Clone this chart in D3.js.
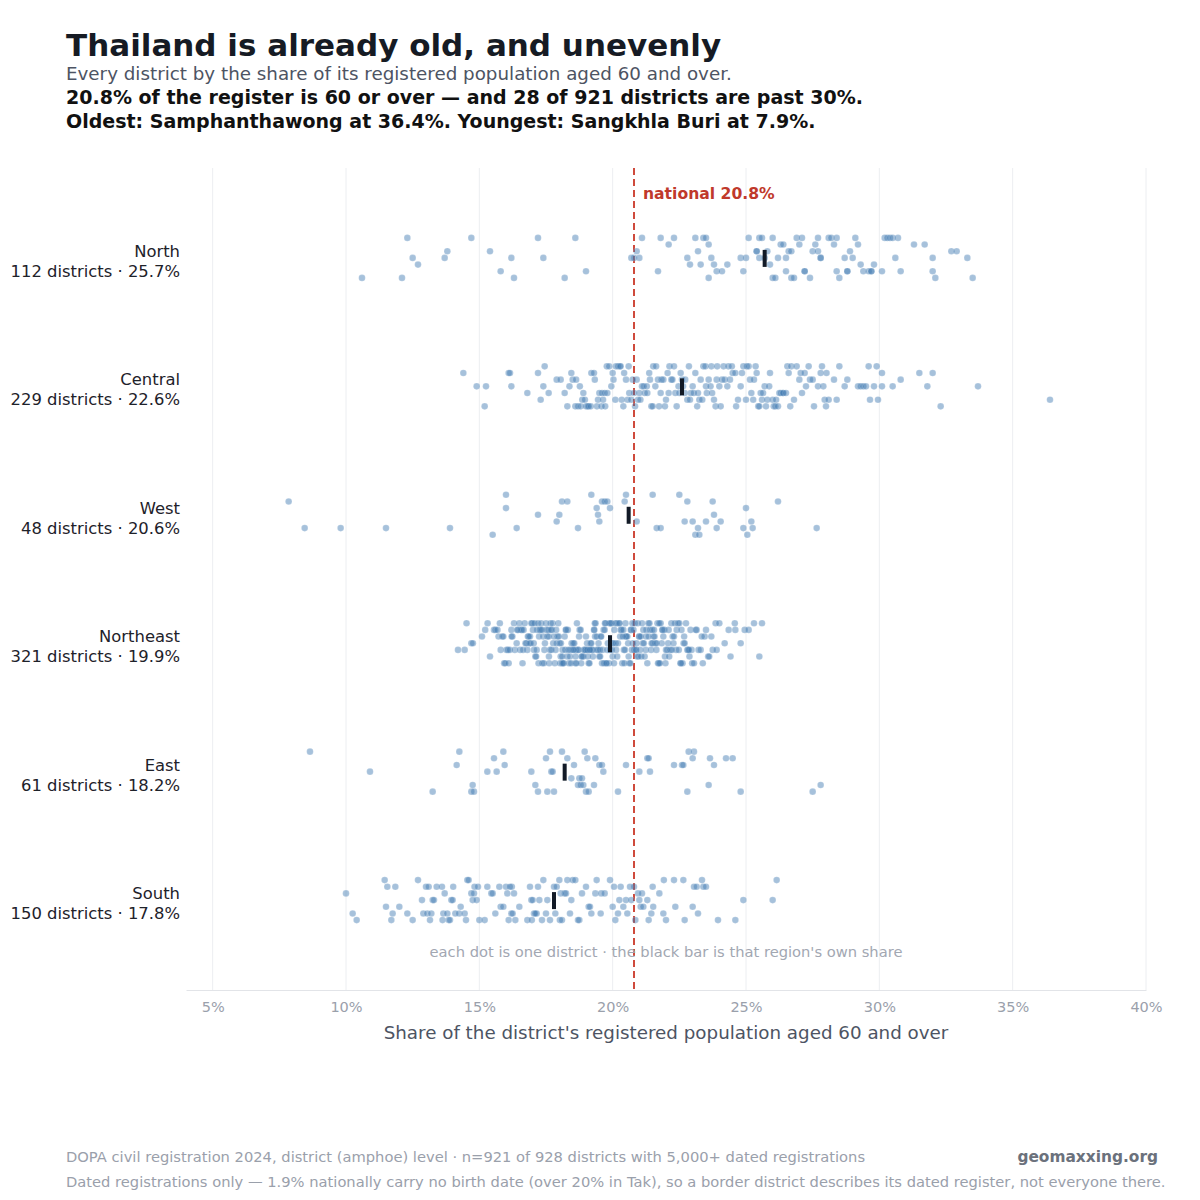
<!DOCTYPE html>
<html>
<head>
<meta charset="utf-8">
<script src="https://cdn.jsdelivr.net/npm/d3@7"></script>
<style>
  body { margin: 0; background: #fff; }
  svg { font-family: "DejaVu Sans", sans-serif; }
</style>
</head>
<body>
<svg id="chart" width="1200" height="1200"></svg>
<script>
// regions, top to bottom
var regions = ["North", "Central", "West", "Northeast", "East", "South"];
var regionCounts = [112, 229, 48, 321, 61, 150];
var regionShares = [25.7, 22.6, 20.6, 19.9, 18.2, 17.8];
var nationalShare = 20.8;
var xTicks = [5, 10, 15, 20, 25, 30, 35, 40];

// district shares aged 60+ (%)
var north = [
  10.6, 12.1, 12.3, 12.5, 12.7, 13.7, 13.8, 14.7, 15.4, 15.8,
  16.2, 16.3, 17.2, 17.4, 18.2, 18.6, 19.0, 20.7, 20.8, 20.9,
  21.0, 21.1, 21.7, 21.8, 22.1, 22.3, 22.8, 22.9, 23.1, 23.2,
  23.3, 23.4, 23.5, 23.6, 23.6, 23.7, 23.8, 23.9, 24.1, 24.3,
  24.8, 24.9, 25.0, 25.1, 25.4, 25.4, 25.5, 25.5, 25.6, 25.7,
  25.8, 25.9, 26.0, 26.0, 26.1, 26.2, 26.3, 26.4, 26.5, 26.5,
  26.6, 26.7, 26.7, 26.8, 26.9, 27.0, 27.1, 27.2, 27.2, 27.4,
  27.5, 27.6, 27.7, 27.7, 27.8, 27.8, 28.1, 28.2, 28.3, 28.4,
  28.4, 28.5, 28.7, 28.8, 28.8, 28.9, 29.0, 29.1, 29.2, 29.3,
  29.4, 29.6, 29.7, 29.7, 29.8, 30.1, 30.2, 30.3, 30.4, 30.5,
  30.6, 30.7, 30.8, 31.3, 31.7, 32.0, 32.0, 32.1, 32.7, 32.9,
  33.3, 33.5
];
var central = [
  14.4, 14.9, 15.2, 15.25, 16.1, 16.15, 16.2, 16.8, 17.2, 17.3,
  17.4, 17.45, 17.6, 17.9, 18.05, 18.2, 18.3, 18.38, 18.45, 18.5,
  18.6, 18.63, 18.7, 18.77, 18.8, 18.86, 18.9, 18.96, 19.0, 19.06,
  19.1, 19.18, 19.2, 19.3, 19.33, 19.41, 19.45, 19.5, 19.58, 19.6,
  19.64, 19.7, 19.72, 19.78, 19.8, 19.87, 19.95, 20.0, 20.03, 20.1,
  20.12, 20.2, 20.27, 20.3, 20.34, 20.4, 20.43, 20.5, 20.56, 20.6,
  20.62, 20.7, 20.75, 20.8, 20.84, 20.9, 20.95, 21.0, 21.04, 21.1,
  21.16, 21.2, 21.28, 21.3, 21.37, 21.4, 21.45, 21.5, 21.52, 21.6,
  21.63, 21.7, 21.74, 21.8, 21.83, 21.9, 21.96, 22.0, 22.06, 22.1,
  22.13, 22.2, 22.24, 22.3, 22.35, 22.4, 22.47, 22.5, 22.55, 22.6,
  22.64, 22.7, 22.72, 22.8, 22.86, 22.9, 22.93, 23.0, 23.04, 23.1,
  23.17, 23.2, 23.25, 23.3, 23.36, 23.4, 23.48, 23.5, 23.53, 23.6,
  23.67, 23.7, 23.73, 23.8, 23.86, 23.9, 23.92, 24.0, 24.05, 24.1,
  24.16, 24.2, 24.3, 24.34, 24.4, 24.47, 24.5, 24.6, 24.63, 24.7,
  24.8, 24.85, 24.9, 25.0, 25.03, 25.1, 25.15, 25.2, 25.27, 25.3,
  25.36, 25.4, 25.46, 25.5, 25.55, 25.6, 25.64, 25.7, 25.75, 25.8,
  25.87, 25.9, 26.0, 26.04, 26.1, 26.13, 26.2, 26.25, 26.3, 26.38,
  26.4, 26.5, 26.55, 26.6, 26.66, 26.7, 26.8, 26.9, 27.0, 27.05,
  27.1, 27.2, 27.25, 27.35, 27.4, 27.5, 27.55, 27.7, 27.8, 27.85,
  27.9, 27.95, 28.0, 28.02, 28.1, 28.3, 28.4, 28.5, 28.7, 28.8,
  29.2, 29.3, 29.4, 29.5, 29.6, 29.65, 29.8, 29.9, 29.95, 30.1,
  30.1, 30.5, 30.8, 31.5, 31.8, 32.0, 32.3, 33.7, 36.4
];
var west = [
  7.85, 8.45, 9.8, 11.5, 13.9, 15.5, 16.0, 16.0, 16.4, 17.2,
  17.9, 18.0, 18.1, 18.3, 18.7, 19.2, 19.4, 19.45, 19.5, 19.6,
  19.7, 19.8, 19.9, 20.45, 20.5, 20.9, 21.5, 21.65, 21.8, 22.5,
  22.7, 22.8, 23.0, 23.1, 23.2, 23.25, 23.5, 23.75, 23.8, 23.9,
  24.05, 24.9, 25.0, 25.05, 25.2, 25.25, 26.2, 27.65
];
var northeast = [
  14.2, 14.45, 14.52, 14.7, 14.76, 15.1, 15.22, 15.31, 15.4, 15.55,
  15.6, 15.68, 15.72, 15.77, 15.8, 15.86, 15.9, 15.93, 15.97,
  16.02, 16.07, 16.1, 16.14, 16.2, 16.24, 16.3, 16.33, 16.4, 16.46,
  16.5, 16.53, 16.56, 16.6, 16.62, 16.66, 16.7, 16.73, 16.76, 16.8,
  16.82, 16.85, 16.88, 16.9, 16.92, 16.95, 16.98, 16.42, 16.21, 16.64,
  17.01, 17.04, 17.07, 17.1, 17.13, 17.16, 17.2, 17.22, 17.26, 17.3,
  17.32, 17.36, 17.4, 17.42, 17.46, 17.5, 17.52, 17.55, 17.58, 17.6,
  17.62, 17.65, 17.67, 17.7, 17.72, 17.75, 17.77, 17.8, 17.83, 17.86,
  17.88, 17.9, 17.93, 17.96, 17.98, 17.05, 17.24, 17.44, 17.61, 17.69,
  17.15, 17.35,
  18.01, 18.03, 18.06, 18.1, 18.12, 18.16, 18.2, 18.22, 18.26, 18.3,
  18.32, 18.36, 18.4, 18.42, 18.46, 18.5, 18.52, 18.56, 18.6, 18.62,
  18.66, 18.7, 18.72, 18.76, 18.8, 18.82, 18.86, 18.9, 18.92, 18.96,
  18.98, 18.05, 18.14, 18.24, 18.34, 18.44, 18.54, 18.64, 18.74, 18.84,
  18.11, 18.61,
  19.0, 19.04, 19.07, 19.1, 19.12, 19.17, 19.2, 19.22, 19.25, 19.3,
  19.31, 19.34, 19.4, 19.41, 19.45, 19.5, 19.52, 19.55, 19.6, 19.62,
  19.66, 19.7, 19.71, 19.75, 19.8, 19.82, 19.86, 19.9, 19.93, 19.97,
  19.99, 19.05, 19.15, 19.26, 19.36, 19.47, 19.57, 19.67, 19.77, 19.88,
  19.13, 19.33, 19.53, 19.73, 19.94,
  20.0, 20.02, 20.06, 20.1, 20.11, 20.15, 20.2, 20.23, 20.26, 20.3,
  20.33, 20.36, 20.4, 20.42, 20.46, 20.5, 20.51, 20.55, 20.6, 20.63,
  20.66, 20.7, 20.72, 20.76, 20.8, 20.83, 20.86, 20.9, 20.92, 20.96,
  20.99, 20.05, 20.17, 20.28, 20.38, 20.48, 20.58, 20.68, 20.78, 20.88,
  20.13, 20.44, 20.74, 20.94,
  21.0, 21.03, 21.07, 21.1, 21.13, 21.17, 21.2, 21.24, 21.27, 21.3,
  21.34, 21.38, 21.4, 21.44, 21.48, 21.5, 21.53, 21.57, 21.6, 21.64,
  21.68, 21.7, 21.73, 21.77, 21.8, 21.84, 21.88, 21.9, 21.94, 21.98,
  21.05, 21.15, 21.25, 21.35, 21.46, 21.55, 21.65, 21.75, 21.86, 21.96,
  22.0, 22.04, 22.08, 22.12, 22.16, 22.2, 22.25, 22.3, 22.33, 22.38,
  22.4, 22.45, 22.5, 22.54, 22.58, 22.62, 22.66, 22.7, 22.75, 22.8,
  22.83, 22.88, 22.92, 22.96, 22.1, 22.28, 22.48, 22.68, 22.86, 22.98,
  22.22, 22.56,
  23.05, 23.15, 23.22, 23.3, 23.38, 23.45, 23.5, 23.58, 23.62, 23.7,
  23.75, 23.86, 23.9, 23.12, 23.34,
  24.0, 24.2, 24.35, 24.42, 24.58, 24.6, 24.8, 24.95,
  25.1, 25.3, 25.5, 25.6
];
var east = [
  8.65, 10.9, 13.25, 14.15, 14.25, 14.7, 14.75, 14.8, 15.3, 15.55,
  15.65, 15.9, 15.95, 16.95, 17.1, 17.2, 17.5, 17.55, 17.65, 17.7,
  17.75, 17.8, 18.1, 18.3, 18.45, 18.55, 18.7, 18.75, 18.8, 18.85,
  18.9, 18.95, 19.0, 19.05, 19.1, 19.3, 19.35, 19.5, 19.6, 19.65,
  20.2, 20.5, 21.0, 21.3, 21.35, 21.4, 22.3, 22.6, 22.65, 22.8,
  22.85, 23.0, 23.05, 23.6, 23.65, 23.8, 24.25, 24.5, 24.8, 27.5,
  27.8
];
var south = [
  10.0, 10.25, 10.4, 11.45, 11.5, 11.55, 11.7, 11.75, 11.85, 12.0,
  12.3, 12.5, 12.7, 12.85, 12.9, 13.0, 13.05, 13.15, 13.2, 13.25,
  13.3, 13.6, 13.62, 13.65, 13.7, 13.8, 13.85, 13.9, 13.95, 14.0,
  14.02, 14.25, 14.3, 14.45, 14.5, 14.55, 14.6, 14.7, 14.75, 14.8,
  14.82, 14.95, 15.0, 15.2, 15.45, 15.6, 15.75, 15.8, 15.9, 16.0,
  16.05, 16.1, 16.2, 16.22, 16.25, 16.3, 16.35, 16.8, 16.9, 16.95,
  16.97, 17.0, 17.05, 17.15, 17.2, 17.25, 17.35, 17.4, 17.55, 17.65,
  17.8, 17.85, 18.0, 18.02, 18.05, 18.2, 18.25, 18.3, 18.4, 18.45,
  18.5, 18.6, 18.75, 18.85, 19.0, 19.1, 19.15, 19.35, 19.4, 19.55,
  19.57, 19.9, 20.05, 20.1, 20.2, 20.25, 20.3, 20.4, 20.5, 20.55,
  20.65, 20.7, 20.85, 20.95, 21.0, 21.05, 21.1, 21.15, 21.3, 21.35,
  21.45, 21.5, 21.52, 21.75, 21.9, 21.92, 22.0, 22.3, 22.35, 22.65,
  22.7, 23.0, 23.05, 23.15, 23.2, 23.35, 23.4, 23.5, 23.95, 24.6,
  24.9, 26.0, 26.15, 13.1, 13.4, 14.1, 14.9, 15.3, 15.5, 16.15,
  16.5, 17.1, 17.5, 17.9, 18.1, 18.7, 19.2, 19.7, 20.0, 20.8
];
var districtValues = [north, central, west, northeast, east, south];

var svg = d3.select("#chart");
var plotLeft = 186, plotRight = 1146, plotTop = 168, plotBottom = 990;

var x = d3.scaleLinear().domain([4, 40]).range([plotLeft, plotRight]);
var y = d3.scalePoint().domain(regions).range([plotTop, plotBottom]).padding(0.7);
var laneGap = 6.67;

// titles
svg.append("text").attr("x", 66).attr("y", 56)
    .style("font-size", "31px").style("font-weight", "bold").style("fill", "#161b24")
    .text("Thailand is already old, and unevenly");
svg.append("text").attr("x", 66).attr("y", 80)
    .style("font-size", "18.3px").style("fill", "#4d5463")
    .text("Every district by the share of its registered population aged 60 and over.");
svg.append("text").attr("x", 66).attr("y", 104)
    .style("font-size", "19px").style("font-weight", "bold").style("fill", "#111")
    .text("20.8% of the register is 60 or over \u2014 and 28 of 921 districts are past 30%.");
svg.append("text").attr("x", 66).attr("y", 128)
    .style("font-size", "19px").style("font-weight", "bold").style("fill", "#111")
    .text("Oldest: Samphanthawong at 36.4%. Youngest: Sangkhla Buri at 7.9%.");

// grid
svg.append("g").selectAll("line").data(xTicks).enter().append("line")
    .attr("x1", function(d) { return x(d); }).attr("x2", function(d) { return x(d); })
    .attr("y1", plotTop).attr("y2", plotBottom)
    .style("stroke", "#eceef1").style("stroke-width", 1);

// x axis
var xAxis = d3.axisBottom(x).tickValues(xTicks).tickSize(0).tickPadding(12)
    .tickFormat(function(d) { return d + "%"; });
var gx = svg.append("g").attr("transform", "translate(0," + plotBottom + ")").call(xAxis);
gx.select(".domain").style("stroke", "#e2e4e8");
gx.selectAll("text").style("font-family", "DejaVu Sans, sans-serif")
    .style("font-size", "14.5px").style("fill", "#9aa0ab");

svg.append("text").attr("x", (plotLeft + plotRight) / 2).attr("y", 1039)
    .style("text-anchor", "middle").style("font-size", "18.3px").style("fill", "#4d5463")
    .text("Share of the district's registered population aged 60 and over");

// national line
svg.append("line")
    .attr("x1", x(nationalShare)).attr("x2", x(nationalShare))
    .attr("y1", plotTop).attr("y2", plotBottom)
    .style("stroke", "#cf4a3c").style("stroke-width", 2).style("stroke-dasharray", "7,4");
svg.append("text").attr("x", x(nationalShare) + 9).attr("y", 199)
    .style("font-size", "15.6px").style("font-weight", "bold").style("fill", "#c0392b")
    .text("national " + nationalShare + "%");

// dots, jittered into 7 lanes with a fixed integer hash of region + index
function lane(ri, i) {
    var h = (ri * 1009 + i + 1) | 0;
    h ^= h >>> 16; h = Math.imul(h, 0x85ebca6b);
    h ^= h >>> 13; h = Math.imul(h, 0xc2b2ae35);
    h ^= h >>> 16;
    return ((h >>> 0) % 7) - 3;
}

regions.forEach(function(r, ri) {
    var cy = y(r);
    var g = svg.append("g");
    g.selectAll("circle").data(districtValues[ri]).enter().append("circle")
        .attr("cx", function(d) { return x(d); })
        .attr("cy", function(d, i) { return cy + lane(ri, i) * laneGap; })
        .attr("r", 3.3)
        .style("fill", "#3a76b0").style("fill-opacity", 0.45)
        .style("stroke", "#ffffff").style("stroke-opacity", 0.3).style("stroke-width", 0.5);

    // region's own share
    g.append("rect")
        .attr("x", x(regionShares[ri]) - 2).attr("y", cy - 8)
        .attr("width", 4).attr("height", 17)
        .style("fill", "#121a26");

    svg.append("text").attr("x", 180).attr("y", cy - 1)
        .style("text-anchor", "end").style("font-size", "16.4px").style("fill", "#1e222a")
        .text(r);
    svg.append("text").attr("x", 180).attr("y", cy + 19)
        .style("text-anchor", "end").style("font-size", "16.4px").style("fill", "#1e222a")
        .text(regionCounts[ri] + " districts \u00b7 " + regionShares[ri] + "%");
});

svg.append("text").attr("x", 666).attr("y", 957)
    .style("text-anchor", "middle").style("font-size", "14.7px").style("fill", "#a2a7b2")
    .text("each dot is one district \u00b7 the black bar is that region's own share");

// footer
svg.append("text").attr("x", 66).attr("y", 1162)
    .style("font-size", "14.7px").style("fill", "#9aa0ab")
    .text("DOPA civil registration 2024, district (amphoe) level \u00b7 n=921 of 928 districts with 5,000+ dated registrations");
svg.append("text").attr("x", 1158).attr("y", 1162)
    .style("text-anchor", "end").style("font-size", "15.4px").style("font-weight", "bold").style("fill", "#6b717c")
    .text("geomaxxing.org");
svg.append("text").attr("x", 66).attr("y", 1187)
    .style("font-size", "14.7px").style("fill", "#9aa0ab")
    .text("Dated registrations only \u2014 1.9% nationally carry no birth date (over 20% in Tak), so a border district describes its dated register, not everyone there.");
</script>
</body>
</html>
